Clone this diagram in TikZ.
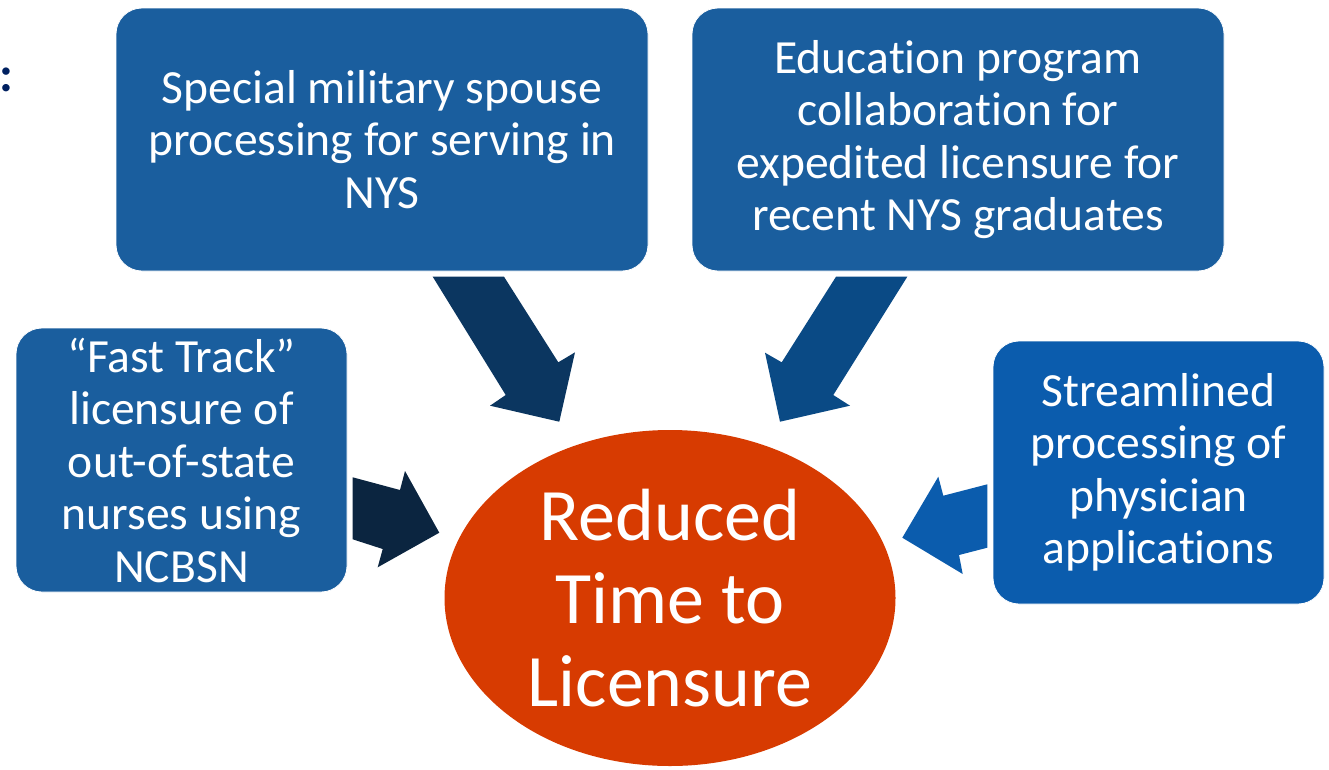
\documentclass[tikz,border=0pt]{standalone}
\usepackage{fontspec}
\setmainfont{Carlito}[Ligatures=NoCommon]
\usetikzlibrary{shapes.geometric}
\definecolor{boxblue}{RGB}{26,94,158}
\definecolor{boxbluebright}{RGB}{11,92,173}
\definecolor{ellred}{RGB}{215,59,1}
\definecolor{arrA}{RGB}{11,54,96}
\definecolor{arrB}{RGB}{10,74,133}
\definecolor{arrC}{RGB}{11,37,64}
\definecolor{navy}{RGB}{0,32,96}
\begin{document}
\begin{tikzpicture}[x=1pt,y=-1pt,
  infobox/.style={rectangle, rounded corners=26pt, fill=boxblue, draw=white, line width=0.8pt,
    text=white, align=center, inner sep=0pt, font=\fontsize{47.6}{52.5}\selectfont},
  goalnode/.style={ellipse, fill=ellred, inner sep=0pt, text=white, align=center,
    font=\fontsize{74}{83}\selectfont}]
\useasboundingbox (0,0) rectangle (1329,769);

\node[text=navy, anchor=base, inner sep=0pt, font=\fontsize{50}{52}\selectfont\bfseries] (colon) at (6.7,91.5) {:};

\node[infobox, minimum width=532pt, minimum height=263pt] (military) at (382,139.5)
  {Special military spouse\\processing for serving in\\NYS};
\node[infobox, minimum width=532pt, minimum height=263pt] (education) at (958,139.5)
  {Education program\\collaboration for\\expedited licensure for\\recent NYS graduates};
\node[infobox, minimum width=331pt, minimum height=264pt] (fasttrack) at (181.5,460)
  {“Fast Track”\\licensure of\\out-of-state\\nurses using\\NCBSN};
\node[infobox, fill=boxbluebright, minimum width=331pt, minimum height=263pt] (physician) at (1158.5,472.5)
  {Streamlined\\processing of\\physician\\applications};

\node[goalnode, minimum width=451pt, minimum height=336pt] (goal) at (670,598)
  {Reduced\\Time to\\Licensure};

% block arrows
\fill[arrA] (432.7,276.7) -- (504,276.7) -- (558.3,362.3) -- (575,352.3) -- (559.3,421.7)
  -- (490,405.7) -- (505.7,395) -- cycle;
\fill[arrB] (836,276.7) -- (907.3,276.7) -- (833.3,395) -- (850,405.7) -- (780,421.7)
  -- (765,352.7) -- (781.7,362.3) -- cycle;
\fill[arrC] (352.7,477.3) -- (400,490) -- (405,471) -- (439.3,532.7) -- (377.7,567.3)
  -- (382.7,549) -- (352.7,539.3) -- cycle;
\fill[boxbluebright] (987.3,484.3) -- (943.3,495.7) -- (938.3,476.7) -- (902.3,537.7)
  -- (962.7,574) -- (959,555) -- (987.3,547.7) -- cycle;
\end{tikzpicture}
\end{document}
